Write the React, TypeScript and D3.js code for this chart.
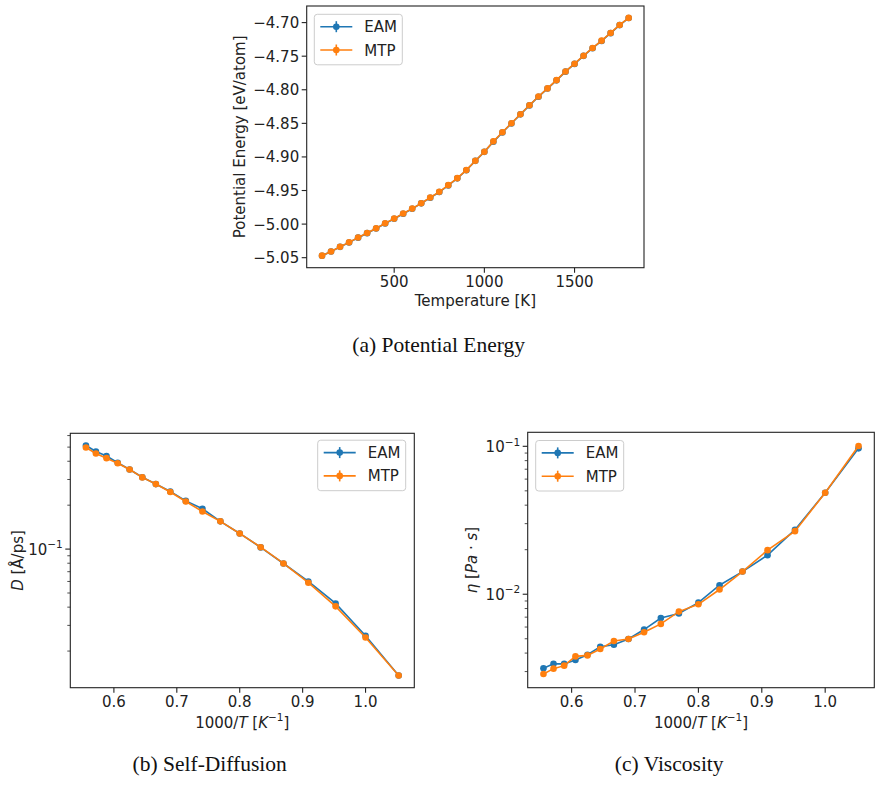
import React, { useEffect, useRef } from "react";
import * as d3 from "d3";

const BLUE = "#1f77b4";
const ORANGE = "#ff7f0e";
const FONT = "DejaVu Sans";

// potential energy runs, 100 K .. 1800 K
const peTemps = [
  100, 150, 200, 250, 300, 350, 400, 450, 500, 550, 600, 650, 700, 750, 800, 850, 900, 950,
  1000, 1050, 1100, 1150, 1200, 1250, 1300, 1350, 1400, 1450, 1500, 1550, 1600, 1650, 1700,
  1750, 1800,
];
const peEam = [
  -5.0472, -5.0409, -5.0339, -5.0274, -5.0202, -5.0135, -5.0065, -4.999, -4.992, -4.9845,
  -4.9771, -4.9691, -4.9607, -4.9523, -4.9424, -4.9319, -4.9198, -4.9058, -4.8924, -4.8775,
  -4.8637, -4.8502, -4.8366, -4.8233, -4.8103, -4.7982, -4.786, -4.773, -4.7615, -4.7495,
  -4.7381, -4.7273, -4.7157, -4.7037, -4.6932,
];
const peMtp = [
  -5.047, -5.0407, -5.0337, -5.0272, -5.02, -5.0133, -5.0063, -4.9988, -4.9918, -4.9843,
  -4.9769, -4.9689, -4.9604, -4.952, -4.942, -4.9316, -4.9196, -4.9057, -4.8922, -4.8768,
  -4.8633, -4.8499, -4.8364, -4.823, -4.81, -4.798, -4.7857, -4.7727, -4.7612, -4.7493,
  -4.7378, -4.7269, -4.7154, -4.7035, -4.693,
];

// liquid runs for transport, hot to cold
const liquidTemps = [
  1800, 1750, 1700, 1650, 1600, 1550, 1500, 1450, 1400, 1350, 1300, 1250, 1200, 1150, 1100,
  1050, 1000, 950,
];
const diffEam = [
  0.513, 0.467, 0.434, 0.391, 0.351, 0.311, 0.279, 0.248, 0.214, 0.189, 0.155, 0.128, 0.1027,
  0.0797, 0.06, 0.0424, 0.0255, 0.0136,
];
const diffMtp = [
  0.497, 0.452, 0.42, 0.388, 0.351, 0.31, 0.279, 0.246, 0.212, 0.181, 0.155, 0.128, 0.103,
  0.0797, 0.0588, 0.0405, 0.0248, 0.0136,
];
const viscEam = [
  0.00316, 0.00339, 0.00338, 0.00359, 0.0039, 0.00442, 0.00456, 0.00498, 0.00577, 0.00691,
  0.0074, 0.00878, 0.01151, 0.01423, 0.01837, 0.0273, 0.0485, 0.0969,
];
const viscMtp = [
  0.002888, 0.00314, 0.00329, 0.0038, 0.00386, 0.00426, 0.00483, 0.00498, 0.00553, 0.0063,
  0.00763, 0.00855, 0.01076, 0.01423, 0.01986, 0.0267, 0.0485, 0.1005,
];

const peTicksX = [500, 1000, 1500];
const peTicksY = [-5.05, -5.0, -4.95, -4.9, -4.85, -4.8, -4.75, -4.7];
const invTicksX = [0.6, 0.7, 0.8, 0.9, 1.0];
const seriesNames = ["EAM", "MTP"];
const captions = ["(a) Potential Energy", "(b) Self-Diffusion", "(c) Viscosity"];

type Part = { t: string; it?: boolean; sup?: boolean };

// writes mixed italic / superscript runs into a text node
function writeParts(text: any, parts: Part[], size: number) {
  let raised = false;
  parts.forEach((p) => {
    const ts = text.append("tspan").text(p.t);
    if (p.it) ts.attr("font-style", "italic");
    if (p.sup && !raised) {
      ts.attr("dy", -size * 0.42).attr("font-size", size * 0.7);
      raised = true;
    } else if (p.sup) {
      ts.attr("font-size", size * 0.7);
    } else if (raised) {
      ts.attr("dy", size * 0.42);
      raised = false;
    }
  });
}

function padLinear(vals: number[], f = 0.05) {
  const [a, b] = d3.extent(vals) as [number, number];
  const p = (b - a) * f;
  return [a - p, b + p];
}

function padLog(vals: number[], f = 0.05) {
  const [a, b] = d3.extent(vals) as [number, number];
  const la = Math.log10(a);
  const lb = Math.log10(b);
  const p = (lb - la) * f;
  return [Math.pow(10, la - p), Math.pow(10, lb + p)];
}

function drawPanel(svg: any, o: any) {
  const { l, r, t, b } = o.box;
  const g = svg.append("g");
  const x = o.x.range([l, r]);
  const y = o.y.range([b, t]);

  // x ticks
  o.xTicks.forEach((v: number) => {
    g.append("line")
      .attr("x1", x(v)).attr("x2", x(v))
      .attr("y1", b).attr("y2", b + 5)
      .attr("stroke", "#222").attr("stroke-width", 1.1);
    g.append("text")
      .attr("x", x(v)).attr("y", b + 19.7)
      .attr("text-anchor", "middle")
      .attr("font-family", FONT).attr("font-size", 15).attr("fill", "#222")
      .text(o.xFormat(v));
  });

  // y ticks
  if (o.log) {
    const [d0, d1] = y.domain();
    for (let n = Math.floor(Math.log10(d0)); n <= Math.ceil(Math.log10(d1)); n++) {
      for (let k = 1; k <= 9; k++) {
        const v = k * Math.pow(10, n);
        if (v < d0 || v > d1) continue;
        const major = k === 1;
        g.append("line")
          .attr("x1", l - (major ? 5 : 3)).attr("x2", l)
          .attr("y1", y(v)).attr("y2", y(v))
          .attr("stroke", "#222").attr("stroke-width", major ? 1.1 : 0.8);
        if (major) {
          const txt = g.append("text")
            .attr("x", l - 7.5).attr("y", y(v) + 5.5)
            .attr("text-anchor", "end")
            .attr("font-family", FONT).attr("font-size", 15).attr("fill", "#222");
          writeParts(txt, [{ t: "10" }, { t: "\u2212" + String(-n), sup: true }], 15);
        }
      }
    }
  } else {
    o.yTicks.forEach((v: number) => {
      g.append("line")
        .attr("x1", l - 5).attr("x2", l)
        .attr("y1", y(v)).attr("y2", y(v))
        .attr("stroke", "#222").attr("stroke-width", 1.1);
      g.append("text")
        .attr("x", l - 7.5).attr("y", y(v) + 5.5)
        .attr("text-anchor", "end")
        .attr("font-family", FONT).attr("font-size", 15).attr("fill", "#222")
        .text(o.yFormat(v));
    });
  }

  // axis labels
  const xl = g.append("text")
    .attr("x", (l + r) / 2).attr("y", o.xLabelY)
    .attr("text-anchor", "middle")
    .attr("font-family", FONT).attr("font-size", 15).attr("fill", "#222");
  writeParts(xl, o.xLabel, 15);

  const cy = (t + b) / 2;
  const yl = g.append("text")
    .attr("x", o.yLabelX).attr("y", cy)
    .attr("transform", `rotate(-90, ${o.yLabelX}, ${cy})`)
    .attr("text-anchor", "middle")
    .attr("font-family", FONT).attr("font-size", 15).attr("fill", "#222");
  writeParts(yl, o.yLabel, 15);

  // data
  const line = d3.line<[number, number]>()
    .x((d) => x(d[0]))
    .y((d) => y(d[1]));
  o.series.forEach((s: any) => {
    const pts: [number, number][] = s.xs.map((xv: number, i: number) => [xv, s.ys[i]]);
    g.append("path")
      .attr("d", line(pts))
      .attr("fill", "none")
      .attr("stroke", s.color)
      .attr("stroke-width", 1.6);
    g.selectAll(null)
      .data(pts)
      .enter()
      .append("circle")
      .attr("cx", (d: [number, number]) => x(d[0]))
      .attr("cy", (d: [number, number]) => y(d[1]))
      .attr("r", 3.3)
      .attr("fill", s.color);
  });

  // frame
  g.append("rect")
    .attr("x", l).attr("y", t)
    .attr("width", r - l).attr("height", b - t)
    .attr("fill", "none").attr("stroke", "#222").attr("stroke-width", 1.1);

  // legend
  const lg = o.legend;
  g.append("rect")
    .attr("x", lg.x).attr("y", lg.y)
    .attr("width", 88).attr("height", 50.5)
    .attr("rx", 3)
    .attr("fill", "white").attr("fill-opacity", 0.8)
    .attr("stroke", "#cccccc").attr("stroke-width", 1);
  o.series.forEach((s: any, i: number) => {
    const ry = lg.y + 12.4 + i * 23.3;
    const hx = lg.x + 6;
    g.append("line")
      .attr("x1", hx).attr("x2", hx + 32)
      .attr("y1", ry).attr("y2", ry)
      .attr("stroke", s.color).attr("stroke-width", 1.6);
    g.append("line")
      .attr("x1", hx + 16).attr("x2", hx + 16)
      .attr("y1", ry - 5.5).attr("y2", ry + 5.5)
      .attr("stroke", s.color).attr("stroke-width", 1.6);
    g.append("circle")
      .attr("cx", hx + 16).attr("cy", ry)
      .attr("r", 3.3).attr("fill", s.color);
    g.append("text")
      .attr("x", lg.x + 50).attr("y", ry + 5.5)
      .attr("font-family", FONT).attr("font-size", 15).attr("fill", "#222")
      .text(s.name);
  });
}

export default function App() {
  const svgRef = useRef<SVGSVGElement>(null);

  useEffect(() => {
    const svg = d3.select(svgRef.current);
    svg.selectAll("*").remove();

    const invT = liquidTemps.map((T) => 1000 / T);
    const invLabel: Part[] = [
      { t: "1000/" }, { t: "T", it: true }, { t: " [" }, { t: "K", it: true },
      { t: "\u22121", sup: true }, { t: "]" },
    ];

    // (a) potential energy
    drawPanel(svg, {
      box: { l: 306.7, r: 644, t: 6, b: 267.7 },
      x: d3.scaleLinear().domain(padLinear(peTemps)),
      y: d3.scaleLinear().domain(padLinear([...peEam, ...peMtp])),
      xTicks: peTicksX,
      xFormat: d3.format("d"),
      yTicks: peTicksY,
      yFormat: d3.format(".2f"),
      xLabel: [{ t: "Temperature [K]" }],
      xLabelY: 305.7,
      yLabel: [{ t: "Potential Energy [eV/atom]" }],
      yLabelX: 245,
      legend: { x: 314.3, y: 14.3 },
      series: [
        { name: seriesNames[0], xs: peTemps, ys: peEam, color: BLUE },
        { name: seriesNames[1], xs: peTemps, ys: peMtp, color: ORANGE },
      ],
    });

    // (b) self-diffusion
    drawPanel(svg, {
      box: { l: 70.3, r: 414.3, t: 433.3, b: 687.7 },
      x: d3.scaleLinear().domain(padLinear(invT)),
      y: d3.scaleLog().domain(padLog([...diffEam, ...diffMtp], 0.053)),
      log: true,
      xTicks: invTicksX,
      xFormat: d3.format(".1f"),
      xLabel: invLabel,
      xLabelY: 727.7,
      yLabel: [{ t: "D", it: true }, { t: " [\u00c5/ps]" }],
      yLabelX: 22.7,
      legend: { x: 317.7, y: 440.2 },
      series: [
        { name: seriesNames[0], xs: invT, ys: diffEam, color: BLUE },
        { name: seriesNames[1], xs: invT, ys: diffMtp, color: ORANGE },
      ],
    });

    // (c) viscosity
    drawPanel(svg, {
      box: { l: 527.7, r: 874.3, t: 432.3, b: 687.7 },
      x: d3.scaleLinear().domain(padLinear(invT)),
      y: d3.scaleLog().domain(padLog([...viscEam, ...viscMtp], 0.06)),
      log: true,
      xTicks: invTicksX,
      xFormat: d3.format(".1f"),
      xLabel: invLabel,
      xLabelY: 727.7,
      yLabel: [
        { t: "\u03b7", it: true }, { t: " [" }, { t: "Pa", it: true }, { t: " \u00b7 " },
        { t: "s", it: true }, { t: "]" },
      ],
      yLabelX: 476.5,
      legend: { x: 535.7, y: 440.5 },
      series: [
        { name: seriesNames[0], xs: invT, ys: viscEam, color: BLUE },
        { name: seriesNames[1], xs: invT, ys: viscMtp, color: ORANGE },
      ],
    });

    // sub-figure captions
    const capPos = [
      [438.7, 351.7],
      [209.7, 770.7],
      [669.2, 770.7],
    ];
    captions.forEach((c, i) => {
      svg.append("text")
        .attr("x", capPos[i][0]).attr("y", capPos[i][1])
        .attr("text-anchor", "middle")
        .attr("font-family", "Liberation Serif")
        .attr("font-size", 21.5)
        .attr("fill", "#111")
        .text(c);
    });
  }, []);

  return (
    <svg
      ref={svgRef}
      width={881}
      height={788}
      style={{ position: "absolute", left: 0, top: 0, background: "white" }}
    />
  );
}
